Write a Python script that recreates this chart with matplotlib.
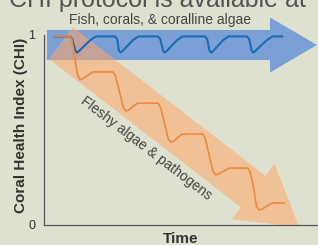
import matplotlib
matplotlib.use("Agg")
import matplotlib.pyplot as plt
from matplotlib.patches import FancyArrow

plt.rcParams['font.family'] = ['Liberation Sans', 'DejaVu Sans']

# ---- data (Time in arbitrary units, CHI 0..1) ----
blue_time = [0.050, 0.139, 0.151, 0.168, 0.176, 0.186, 0.246, 0.276,
             0.376, 0.388, 0.397, 0.405, 0.415, 0.470, 0.500,
             0.603, 0.615, 0.629, 0.637, 0.647, 0.702, 0.732,
             0.850, 0.862, 0.874, 0.882, 0.892, 0.945, 0.975,
             1.071, 1.083, 1.095, 1.103, 1.113, 1.175, 1.205, 1.261]
blue_chi = [0.99, 0.99, 0.975, 0.915, 0.905, 0.912, 0.97, 0.99,
            0.99, 0.975, 0.915, 0.905, 0.912, 0.97, 0.99,
            0.99, 0.975, 0.915, 0.905, 0.912, 0.97, 0.99,
            0.99, 0.975, 0.915, 0.905, 0.912, 0.97, 0.99,
            0.99, 0.975, 0.915, 0.905, 0.912, 0.97, 0.99, 0.99]

orange_time = [0.050, 0.135, 0.148, 0.158, 0.178, 0.192, 0.205, 0.255, 0.265,
               0.366, 0.378, 0.392, 0.420, 0.434, 0.447, 0.490, 0.500,
               0.603, 0.615, 0.629, 0.657, 0.671, 0.684, 0.725, 0.735,
               0.839, 0.851, 0.866, 0.893, 0.907, 0.920, 0.972, 0.982,
               1.076, 1.088, 1.103, 1.122, 1.136, 1.149, 1.198, 1.208, 1.271]
orange_chi = [0.992, 0.992, 0.975, 0.92, 0.79, 0.762, 0.766, 0.800, 0.803,
              0.803, 0.785, 0.73, 0.615, 0.597, 0.601, 0.636, 0.639,
              0.639, 0.62, 0.565, 0.45, 0.434, 0.438, 0.473, 0.476,
              0.476, 0.455, 0.39, 0.277, 0.261, 0.265, 0.294, 0.297,
              0.297, 0.275, 0.21, 0.092, 0.076, 0.08, 0.110, 0.113, 0.113]

y_ticks = [0, 1]
y_tick_labels = ['0', '1']
label_top = 'Fish, corals, & coralline algae'
label_bottom = 'Fleshy algae & pathogens'

BG = '#dfe1d0'
fig = plt.figure(figsize=(3.18, 2.45), dpi=100, facecolor=BG)
ax = fig.add_axes([43.5 / 318, 20.5 / 245, 274.5 / 318, 224.5 / 245])
ax.set_facecolor('none')
ax.set_xlim(0, 274.5 / 190)
ax.set_ylim(0, 224.5 / 190)

# decorative arrows
blue_arrow = FancyArrow(0.018, 0.945, 1.421, 0, width=0.158, head_width=0.29,
                        head_length=0.247, length_includes_head=True,
                        color='#7ba0d5', lw=0, zorder=1, clip_on=False)
ax.add_patch(blue_arrow)
orange_arrow = FancyArrow(0.092, 0.955, 1.253, -0.968, width=0.21, head_width=0.37,
                          head_length=0.305, length_includes_head=True,
                          color='#ffa569', alpha=0.55, lw=0, zorder=2, clip_on=True)
ax.add_patch(orange_arrow)

ax.plot(blue_time, blue_chi, color='#1b6cb6', lw=1.5, zorder=3, solid_capstyle='butt')
ax.plot(orange_time, orange_chi, color='#ef8a3c', lw=1.2, zorder=4, solid_capstyle='butt')

ax.text(0.613, 1.076, label_top, ha='center', va='center', fontsize=10,
        color='#444444', zorder=5)
ax.text(0.539, 0.403, label_bottom, ha='center', va='center', fontsize=10,
        color='#444444', rotation=-37.4, rotation_mode='anchor', zorder=5)

for s in ['top', 'right']:
    ax.spines[s].set_visible(False)
for s in ['left', 'bottom']:
    ax.spines[s].set_color('#555555')
    ax.spines[s].set_linewidth(0.9)
ax.spines['left'].set_bounds(0, 1)
ax.set_xticks([])
ax.set_yticks(y_ticks)
ax.set_yticklabels(y_tick_labels)
ax.tick_params(axis='y', length=0, pad=6, labelsize=9, labelcolor='#333333')

fig.text(181 / 318, 2 / 245, 'Time', ha='center', va='baseline',
         fontsize=11, fontweight='bold', color='#333333')
fig.text(21 / 318, 1 - 125.5 / 245, 'Coral Health Index (CHI)', ha='center', va='center',
         rotation=90, fontsize=11, fontweight='bold', color='#333333')
fig.text(157 / 318, 1 - 6.5 / 245, 'CHI protocol is available at', ha='center',
         va='baseline', fontsize=18, color='#555555')

fig.savefig('out.png', dpi=100, facecolor=BG)
